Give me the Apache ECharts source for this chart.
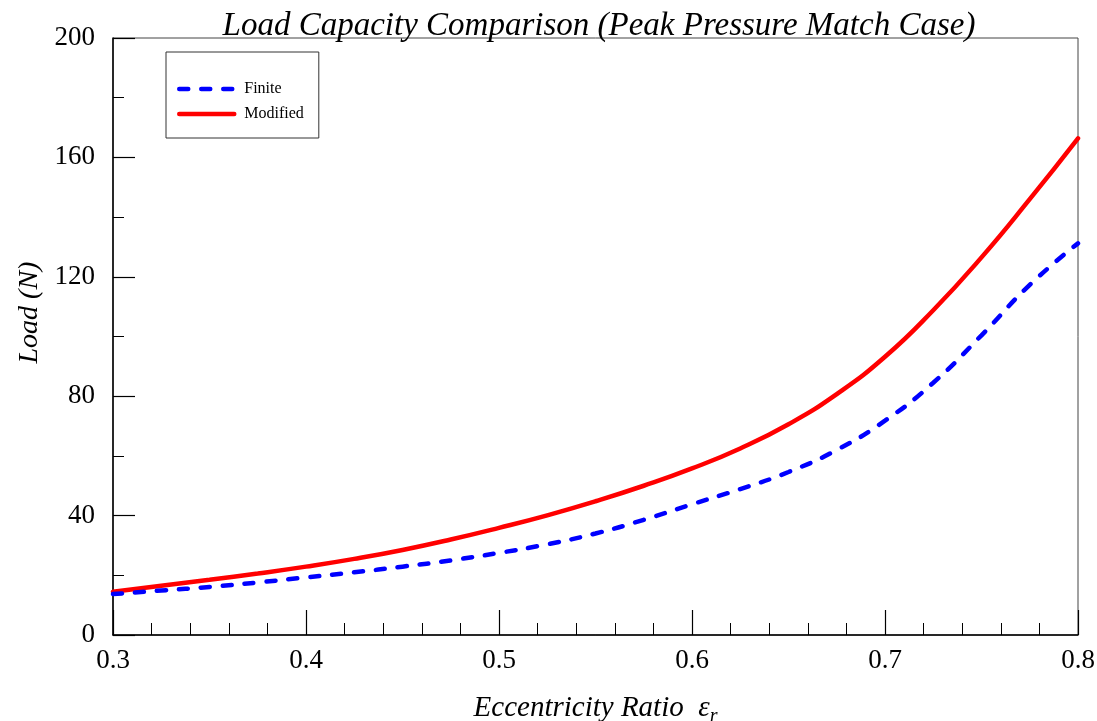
<!DOCTYPE html>
<html>
<head>
<meta charset="utf-8">
<script src="https://cdn.jsdelivr.net/npm/echarts@6/dist/echarts.min.js"></script>
<style>html,body{margin:0;padding:0;background:#fff}#c{width:1097px;height:721px}</style>
</head>
<body>
<div id="c"></div>
<script>
const ecc = [0.3,0.325,0.35,0.375,0.4,0.425,0.45,0.475,0.5,0.525,0.55,0.575,0.6,0.625,0.65,0.675,0.7,0.725,0.75,0.775,0.8];
const finite = [13.7,14.9,16.1,17.6,19.3,21.0,22.9,25.0,27.5,30.4,34.0,38.6,43.8,48.9,54.6,62.0,71.8,84.5,100.4,117.3,131.2];
const modified = [14.5,16.5,18.5,20.6,22.9,25.5,28.5,32.0,35.9,40.1,44.8,50.0,55.8,62.5,70.6,80.7,93.2,108.8,126.5,146.0,166.4];
const seriesNames = ['Finite','Modified'];

const F = '"Liberation Serif", "Times New Roman", serif';
const chart = echarts.init(document.getElementById('c'));
chart.setOption({
  animation: false,
  title: {
    text: 'Load Capacity Comparison (Peak Pressure Match Case)',
    left: 594, top: 5, textAlign: 'center',
    textStyle: {fontFamily: F, fontStyle: 'italic', fontWeight: 'normal', fontSize: 33, color: '#000'}
  },
  legend: {
    orient: 'vertical', left: 166, top: 52,
    padding: [29, 15, 16, 11], itemGap: 9,
    itemWidth: 55, itemHeight: 14,
    borderColor: '#333', borderWidth: 1,
    itemStyle: {opacity: 0, borderWidth: 0},
    lineStyle: {width: 4.5},
    textStyle: {fontFamily: F, fontSize: 16, color: '#000', padding: [0,0,0,5]},
    data: seriesNames
  },
  grid: {left: 113, right: 19, top: 38, bottom: 86, containLabel: false, outerBoundsMode: 'none',
         show: true, borderColor: '#444', borderWidth: 1},
  xAxis: {
    type: 'value', min: 0.3, max: 0.8, interval: 0.1,
    name: '{a|Eccentricity Ratio  ε}{b|r}', nameLocation: 'middle', nameGap: 59,
    nameTextStyle: {rich: {
      a: {fontFamily: F, fontStyle: 'italic', fontSize: 29, color: '#000'},
      b: {fontFamily: F, fontStyle: 'italic', fontSize: 20, color: '#000', verticalAlign: 'bottom', padding: [0,0,-4,0]}
    }},
    axisLine: {lineStyle: {color: '#000', width: 1.5}},
    axisTick: {inside: true, length: 25, lineStyle: {color: '#000', width: 1.2}},
    minorTick: {show: true, splitNumber: 5, length: 12, lineStyle: {color: '#000', width: 1}},
    splitLine: {show: false},
    axisLabel: {fontFamily: F, fontSize: 27, color: '#000', margin: 12, formatter: v => v.toFixed(1)}
  },
  yAxis: {
    type: 'value', min: 0, max: 200, interval: 40,
    name: 'Load (N)', nameLocation: 'middle', nameGap: 68,
    nameTextStyle: {fontFamily: F, fontStyle: 'italic', fontSize: 28, color: '#000', padding: [0,0,0,48]},
    axisLine: {show: true, lineStyle: {color: '#000', width: 1.5}},
    axisTick: {show: true, inside: true, length: 22, lineStyle: {color: '#000', width: 1.2}},
    minorTick: {show: true, splitNumber: 2, length: 11, lineStyle: {color: '#000', width: 1}},
    splitLine: {show: false},
    axisLabel: {fontFamily: F, fontSize: 27, color: '#000', margin: 18}
  },
  series: [
    {name: seriesNames[0], type: 'line', smooth: true, symbol: 'none', z: 3,
     data: ecc.map((x,i) => [x, finite[i]]),
     itemStyle: {color: '#0000ff'},
     lineStyle: {color: '#0000ff', width: 4.5, type: [9, 13], cap: 'round'}},
    {name: seriesNames[1], type: 'line', smooth: true, symbol: 'none', z: 2,
     data: ecc.map((x,i) => [x, modified[i]]),
     itemStyle: {color: '#ff0000'},
     lineStyle: {color: '#ff0000', width: 4.5, cap: 'round'}}
  ]
});
</script>
</body>
</html>
